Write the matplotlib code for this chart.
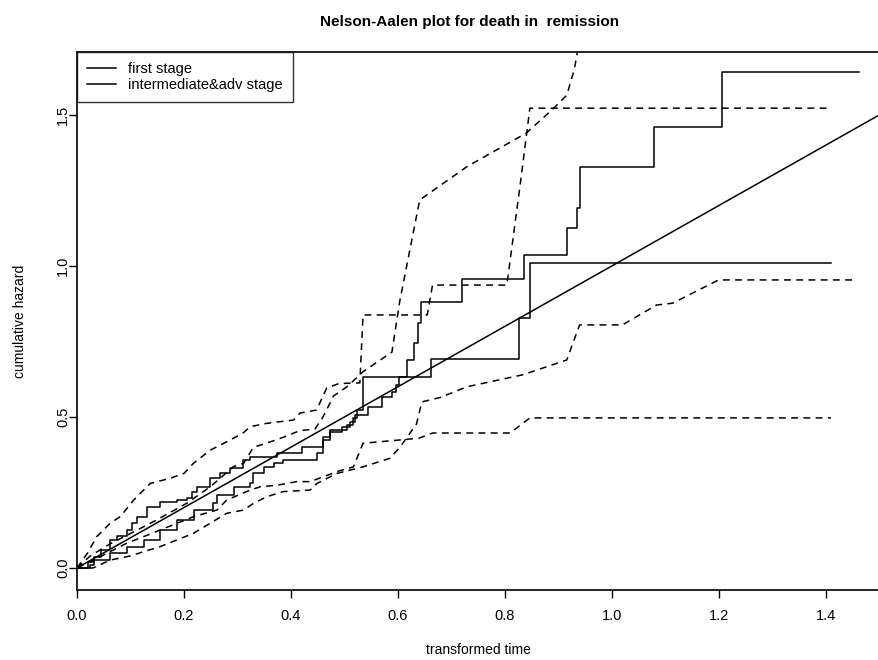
import matplotlib
matplotlib.use("Agg")
import matplotlib.pyplot as plt

# ---- data ----
# Nelson-Aalen estimate, first stage (upper curve early, ends at 1.01)
time_a = [0.0, 0.02, 0.031, 0.045, 0.062, 0.075, 0.093, 0.103, 0.112, 0.131, 0.156, 0.187,
          0.206, 0.215, 0.224, 0.249, 0.268, 0.287, 0.31, 0.324, 0.374, 0.42, 0.46, 0.473,
          0.505, 0.516, 0.523, 0.535, 0.662, 0.826, 0.847, 1.41]
haz_a = [0.0, 0.02, 0.037, 0.06, 0.093, 0.105, 0.126, 0.15, 0.17, 0.203, 0.22, 0.225,
         0.231, 0.25, 0.269, 0.297, 0.313, 0.33, 0.358, 0.369, 0.38, 0.40, 0.435, 0.457,
         0.473, 0.497, 0.523, 0.632, 0.692, 0.828, 1.01, 1.01]

# Nelson-Aalen estimate, intermediate & advanced stage (ends at 1.64)
time_b = [0.0, 0.024, 0.031, 0.062, 0.093, 0.125, 0.156, 0.187, 0.218, 0.255, 0.262, 0.293,
          0.324, 0.33, 0.349, 0.368, 0.386, 0.449, 0.461, 0.473, 0.495, 0.51, 0.52, 0.545,
          0.57, 0.59, 0.597, 0.602, 0.617, 0.63, 0.637, 0.643, 0.721, 0.836, 0.916, 0.936,
          0.94, 1.08, 1.207, 1.463]
haz_b = [0.0, 0.01, 0.026, 0.049, 0.071, 0.093, 0.126, 0.159, 0.192, 0.214, 0.242, 0.269,
         0.28, 0.313, 0.336, 0.347, 0.358, 0.38, 0.424, 0.45, 0.467, 0.483, 0.508, 0.533,
         0.566, 0.583, 0.606, 0.632, 0.689, 0.745, 0.81, 0.881, 0.957, 1.036, 1.126, 1.192,
         1.328, 1.46, 1.642, 1.642]

# confidence bands (dashed)
au_t = [0.0, 0.02, 0.037, 0.062, 0.081, 0.106, 0.137, 0.174, 0.2, 0.218, 0.249, 0.28, 0.31,
        0.324, 0.355, 0.405, 0.417, 0.448, 0.467, 0.49, 0.529, 0.535, 0.655, 0.665, 0.804,
        0.83, 0.847, 1.41]
au_v = [0.0, 0.05, 0.104, 0.148, 0.17, 0.225, 0.28, 0.297, 0.313, 0.347, 0.39, 0.418, 0.446,
        0.468, 0.479, 0.49, 0.513, 0.523, 0.596, 0.611, 0.613, 0.838, 0.838, 0.937, 0.937,
        1.285, 1.523, 1.523]

al_t = [0.0, 0.025, 0.062, 0.093, 0.125, 0.156, 0.187, 0.218, 0.262, 0.28, 0.324, 0.343,
        0.374, 0.411, 0.436, 0.461, 0.486, 0.517, 0.535, 0.604, 0.64, 0.665, 0.81, 0.847, 1.41]
al_v = [0.0, 0.021, 0.054, 0.082, 0.104, 0.126, 0.148, 0.17, 0.192, 0.225, 0.258, 0.269,
        0.274, 0.286, 0.286, 0.302, 0.319, 0.335, 0.413, 0.424, 0.43, 0.447, 0.447, 0.497, 0.497]

bu_t = [0.0, 0.025, 0.062, 0.112, 0.15, 0.206, 0.25, 0.293, 0.312, 0.33, 0.349, 0.386, 0.417,
        0.445, 0.46, 0.48, 0.505, 0.535, 0.589, 0.604, 0.641, 0.69, 0.73, 0.79, 0.84, 0.89,
        0.916, 0.93, 0.945]
bu_v = [0.0, 0.04, 0.08, 0.125, 0.16, 0.215, 0.27, 0.336, 0.347, 0.4, 0.41, 0.433, 0.455,
        0.46, 0.5, 0.57, 0.6, 0.65, 0.715, 0.887, 1.219, 1.28, 1.33, 1.39, 1.44, 1.52,
        1.566, 1.65, 1.8]

bl_t = [0.0, 0.03, 0.062, 0.1, 0.125, 0.156, 0.187, 0.218, 0.249, 0.28, 0.312, 0.33, 0.355,
        0.386, 0.436, 0.449, 0.486, 0.535, 0.585, 0.604, 0.635, 0.645, 0.68, 0.729, 0.834,
        0.916, 0.94, 1.02, 1.084, 1.114, 1.2, 1.458]
bl_v = [0.0, 0.0, 0.026, 0.04, 0.054, 0.071, 0.093, 0.115, 0.148, 0.181, 0.192, 0.214, 0.236,
        0.253, 0.258, 0.28, 0.313, 0.335, 0.363, 0.40, 0.477, 0.55, 0.565, 0.6, 0.64, 0.689,
        0.805, 0.805, 0.871, 0.877, 0.954, 0.954]

# reference line y = x
ref_t = [0.0, 1.5]
ref_v = [0.0, 1.5]

labels = ["first stage", "intermediate&adv stage"]
xticks = [0.0, 0.2, 0.4, 0.6, 0.8, 1.0, 1.2, 1.4]
yticks = [0.0, 0.5, 1.0, 1.5]

# ---- drawing ----
plt.rcParams['font.family'] = ['Liberation Sans', 'DejaVu Sans']
plt.rcParams['font.size'] = 10

fig = plt.figure(figsize=(8.79, 6.6), dpi=100)
ax = fig.add_axes([77 / 879, 70 / 660, 1 - 77 / 879, (590 - 52) / 660])

lw = 1.1
ax.step(time_a, haz_a, where='post', color='black', lw=lw, label=labels[0])
ax.step(time_b, haz_b, where='post', color='black', lw=lw, label=labels[1])
for t, v in [(au_t, au_v), (al_t, al_v), (bu_t, bu_v), (bl_t, bl_v)]:
    ax.plot(t, v, color='black', lw=lw, linestyle=(0, (4.5, 3.5)))
ax.plot(ref_t, ref_v, color='black', lw=lw)

ax.set_xlim(0, 1.5)
ax.set_ylim(-0.073, 1.709)
ax.set_xticks(xticks)
ax.set_xticklabels([f"{v:.1f}" for v in xticks])
ax.set_yticks(yticks)
ax.set_yticklabels([f"{v:.1f}" for v in yticks], rotation=90, va='center')
ax.tick_params(direction='out', length=6, width=1, labelsize=10.5)
ax.tick_params(axis='x', pad=8)
ax.tick_params(axis='y', pad=-1)
for s in ax.spines.values():
    s.set_linewidth(1.2)

ax.set_xlabel("transformed time", fontsize=10, labelpad=14)
ax.set_ylabel("cumulative hazard", fontsize=10, labelpad=21)

leg = ax.legend(loc='upper left', borderaxespad=0, frameon=True, fancybox=False,
                handlelength=2.0, handletextpad=0.8, borderpad=0.7, labelspacing=0.1,
                fontsize=10.5)
leg.get_frame().set_edgecolor('black')
leg.get_frame().set_linewidth(1.0)

fig.text(470 / 879, 1 - 22 / 660, "Nelson-Aalen plot for death in  remission",
         ha='center', va='center', fontsize=11, fontweight='bold')

fig.savefig("out.png", dpi=100)
